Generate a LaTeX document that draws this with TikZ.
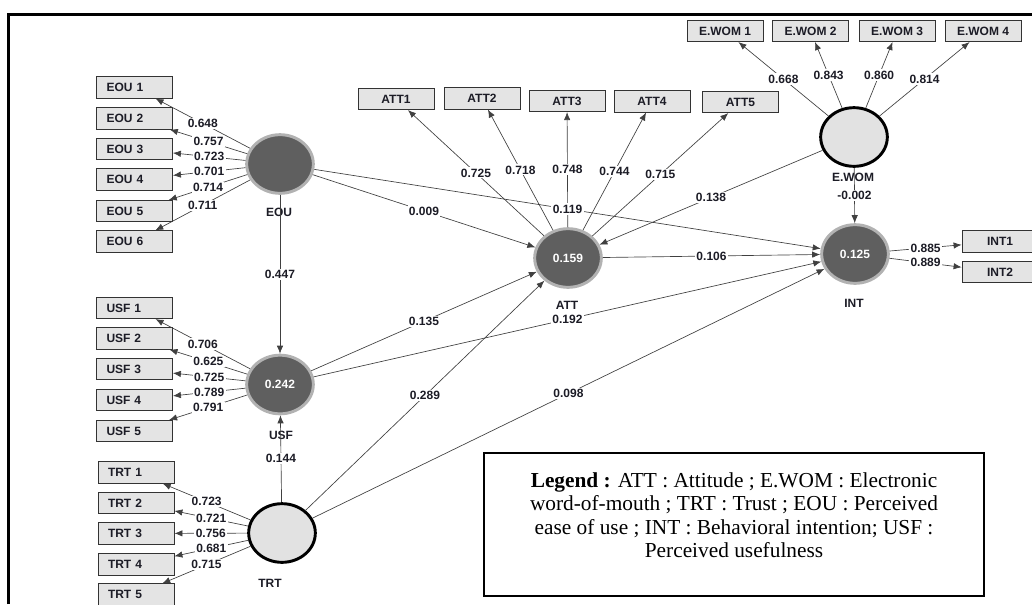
\documentclass[tikz,border=0pt]{standalone}
\usepackage{fontspec}
\setmainfont{Liberation Serif}
\setsansfont{Liberation Sans}
\usepackage{tikz}
\usetikzlibrary{arrows.meta}
\usetikzlibrary{shapes.geometric}
\definecolor{latentdark}{RGB}{95,95,95}
\definecolor{latentlight}{RGB}{226,226,226}
\definecolor{ringgrey}{RGB}{178,178,178}
\definecolor{boxgrey}{RGB}{228,228,228}
\definecolor{textdark}{RGB}{28,28,38}

\begin{document}
\begin{tikzpicture}[x=0.75pt, y=-0.75pt,
  every node/.style={font=\sffamily\bfseries\fontsize{9}{10}\selectfont, text=textdark},
  ind/.style={rectangle, draw=black!80, fill=boxgrey, line width=0.6pt,
    minimum width=57pt, minimum height=16pt, inner sep=1pt},
  indleft/.style={ind, text width=42pt, inner xsep=7.5pt, align=left},
  lvdark/.style={ellipse, fill=latentdark, draw=ringgrey, line width=2.2pt,
    minimum width=50pt, minimum height=44pt, text=white},
  lvlight/.style={ellipse, fill=latentlight, draw=black, line width=2.2pt,
    minimum width=50pt, minimum height=44pt},
  pfeil/.style={draw=black!75, line width=0.5pt, -{Latex[length=6pt,width=4.8pt]}},
  wert/.style={midway, fill=white, inner sep=1pt}]

  \useasboundingbox (0,0) rectangle (1032,604);

  % Rahmen
  \draw[line width=2.25pt] (8.5,604) -- (8.5,14) -- (1032,14);

  % Latente Variablen
  \node[lvdark] (EOU) at (280,164) {};
  \node[lvdark] (USF) at (280,384.5) {0.242};
  \node[lvlight] (TRT) at (282,533) {};
  \node[lvdark] (ATT) at (568,258) {0.159};
  \node[lvlight] (EWOM) at (854,137) {};
  \node[lvdark] (INT) at (855,254) {0.125};

  \node (EOUname) at (279,212) {EOU};
  \node (USFname) at (281,435) {USF};
  \node (TRTname) at (270,583) {TRT};
  \node (ATTname) at (567,305) {ATT};
  \node (EWOMname) at (853,177) {E.WOM};
  \node (INTname) at (854,303) {INT};

  % Indikatoren
  \node[indleft] (EOU1) at (134.5,87.5) {EOU 1};
  \node[indleft] (EOU2) at (134.5,118.5) {EOU 2};
  \node[indleft] (EOU3) at (134.5,149) {EOU 3};
  \node[indleft] (EOU4) at (134.5,179.5) {EOU 4};
  \node[indleft] (EOU5) at (134.5,211) {EOU 5};
  \node[indleft] (EOU6) at (134.5,241.5) {EOU 6};

  \node[indleft] (USF1) at (134.5,308) {USF 1};
  \node[indleft] (USF2) at (134.5,338.5) {USF 2};
  \node[indleft] (USF3) at (134.5,369) {USF 3};
  \node[indleft] (USF4) at (134.5,400) {USF 4};
  \node[indleft] (USF5) at (134.5,431) {USF 5};

  \node[indleft] (TRT1) at (136,472.5) {TRT 1};
  \node[indleft] (TRT2) at (136,503) {TRT 2};
  \node[indleft] (TRT3) at (136,533.5) {TRT 3};
  \node[indleft] (TRT4) at (136,564.5) {TRT 4};
  \node[indleft] (TRT5) at (136,594.5) {TRT 5};

  \node[ind] (ATT1) at (396,99) {ATT1};
  \node[ind] (ATT2) at (482,98.5) {ATT2};
  \node[ind] (ATT3) at (567,101) {ATT3};
  \node[ind] (ATT4) at (652,101.5) {ATT4};
  \node[ind] (ATT5) at (740.5,102) {ATT5};

  \node[ind] (EWOM1) at (725,31) {E.WOM 1};
  \node[ind] (EWOM2) at (810.5,31) {E.WOM 2};
  \node[ind] (EWOM3) at (897,31) {E.WOM 3};
  \node[ind] (EWOM4) at (983,31) {E.WOM 4};

  \node[ind] (INT1) at (1000,241.5) {INT1};
  \node[ind] (INT2) at (1000,272) {INT2};

  % Ladungen
  \draw[pfeil] (EOU) -- (EOU1) node[wert] {0.648};
  \draw[pfeil] (EOU) -- (EOU2) node[wert] {0.757};
  \draw[pfeil] (EOU) -- (EOU3) node[wert] {0.723};
  \draw[pfeil] (EOU) -- (EOU4) node[wert] {0.701};
  \draw[pfeil] (EOU) -- (EOU5) node[wert] {0.714};
  \draw[pfeil] (EOU) -- (EOU6) node[wert] {0.711};

  \draw[pfeil] (USF) -- (USF1) node[wert] {0.706};
  \draw[pfeil] (USF) -- (USF2) node[wert] {0.625};
  \draw[pfeil] (USF) -- (USF3) node[wert] {0.725};
  \draw[pfeil] (USF) -- (USF4) node[wert] {0.789};
  \draw[pfeil] (USF) -- (USF5) node[wert] {0.791};

  \draw[pfeil] (TRT) -- (TRT1) node[wert] {0.723};
  \draw[pfeil] (TRT) -- (TRT2) node[wert] {0.721};
  \draw[pfeil] (TRT) -- (TRT3) node[wert] {0.756};
  \draw[pfeil] (TRT) -- (TRT4) node[wert] {0.681};
  \draw[pfeil] (TRT) -- (TRT5) node[wert] {0.715};

  \draw[pfeil] (ATT) -- (ATT1) node[wert] {0.725};
  \draw[pfeil] (ATT) -- (ATT2) node[wert] {0.718};
  \draw[pfeil] (ATT) -- (ATT3) node[wert] {0.748};
  \draw[pfeil] (ATT) -- (ATT4) node[wert] {0.744};
  \draw[pfeil] (ATT) -- (ATT5) node[wert] {0.715};

  \draw[pfeil] (EWOM) -- (EWOM1) node[wert] {0.668};
  \draw[pfeil] (EWOM) -- (EWOM2) node[wert] {0.843};
  \draw[pfeil] (EWOM) -- (EWOM3) node[wert] {0.860};
  \draw[pfeil] (EWOM) -- (EWOM4) node[wert] {0.814};

  \draw[pfeil] (INT) -- (INT1) node[wert] {0.885};
  \draw[pfeil] (INT) -- (INT2) node[wert] {0.889};

  % Pfade
  \draw[pfeil] (EOU) -- (USF) node[wert] {0.447};
  \draw[pfeil] (TRT) -- (USF) node[wert] {0.144};
  \draw[pfeil] (EOU) -- (ATT) node[wert] {0.009};
  \draw[pfeil] (EOU) -- (INT) node[wert] {0.119};
  \draw[pfeil] (EWOM) -- (ATT) node[wert] {0.138};
  \draw[pfeil] (EWOM) -- (INT) node[wert] {-0.002};
  \draw[pfeil] (ATT) -- (INT) node[wert] {0.106};
  \draw[pfeil] (USF) -- (ATT) node[wert] {0.135};
  \draw[pfeil] (USF) -- (INT) node[wert] {0.192};
  \draw[pfeil] (TRT) -- (ATT) node[wert] {0.289};
  \draw[pfeil] (TRT) -- (INT) node[wert] {0.098};

  % Legende
  \draw[line width=1.6pt] (484,453) rectangle (984,596);
  \node[align=center, text=black, font=\rmfamily\fontsize{16}{17.6}\selectfont] (legende) at (734,515)
    {\textbf{Legend :} ATT : Attitude ; E.WOM : Electronic\\
     word-of-mouth ; TRT : Trust ; EOU : Perceived\\
     ease of use ; INT : Behavioral intention; USF :\\
     Perceived usefulness};

\end{tikzpicture}
\end{document}
